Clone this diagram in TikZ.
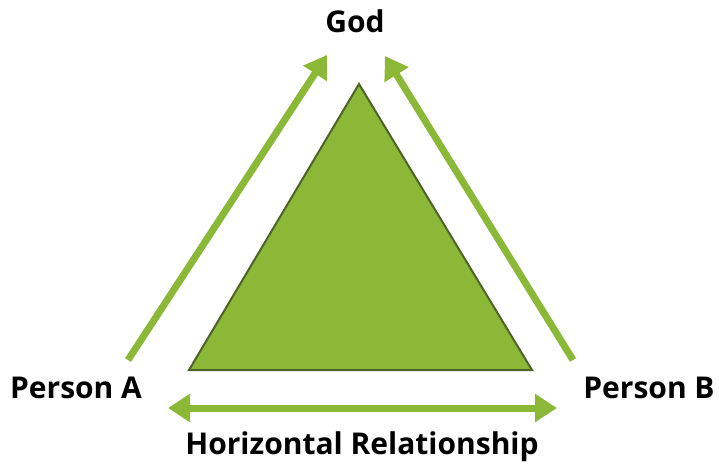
\documentclass[tikz,border=0pt]{standalone}
\usepackage{fontspec}
\setmainfont{Open Sans}
\usetikzlibrary{arrows.meta}
\definecolor{leaf}{RGB}{139,184,54}
\definecolor{darkleaf}{RGB}{79,98,40}
\tikzset{
	label/.style={font=\fontsize{30}{34}\selectfont\bfseries},
	link/.style={draw=leaf,line width=7pt,-{Triangle[length=22pt,width=27pt]}},
}
\begin{document}
\begin{tikzpicture}[x=1pt,y=-1pt]
		\useasboundingbox (0,0) rectangle (719,469);
		\node[label] (god) at (355,21) {God};
		\node[label] (pa) at (76,388) {Person A};
		\node[label] (pb) at (649,388) {Person B};
		\node[label] (hr) at (362,447) {Horizontal Relationship};
		\draw[fill=leaf,draw=darkleaf,line width=2pt,line join=miter] (359,84) -- (532,370) -- (189,370) -- cycle;
		\coordinate (a1) at (128,360); \coordinate (a2) at (327,55);
		\coordinate (b1) at (573,360); \coordinate (b2) at (385,56);
		\coordinate (h1) at (168,408); \coordinate (h2) at (557,408);
		\draw[link] (a1) -- (a2);
		\draw[link] (b1) -- (b2);
		\draw[link,{Triangle[length=22pt,width=27pt]}-{Triangle[length=22pt,width=27pt]}] (h1) -- (h2);
	\end{tikzpicture}
\end{document}
